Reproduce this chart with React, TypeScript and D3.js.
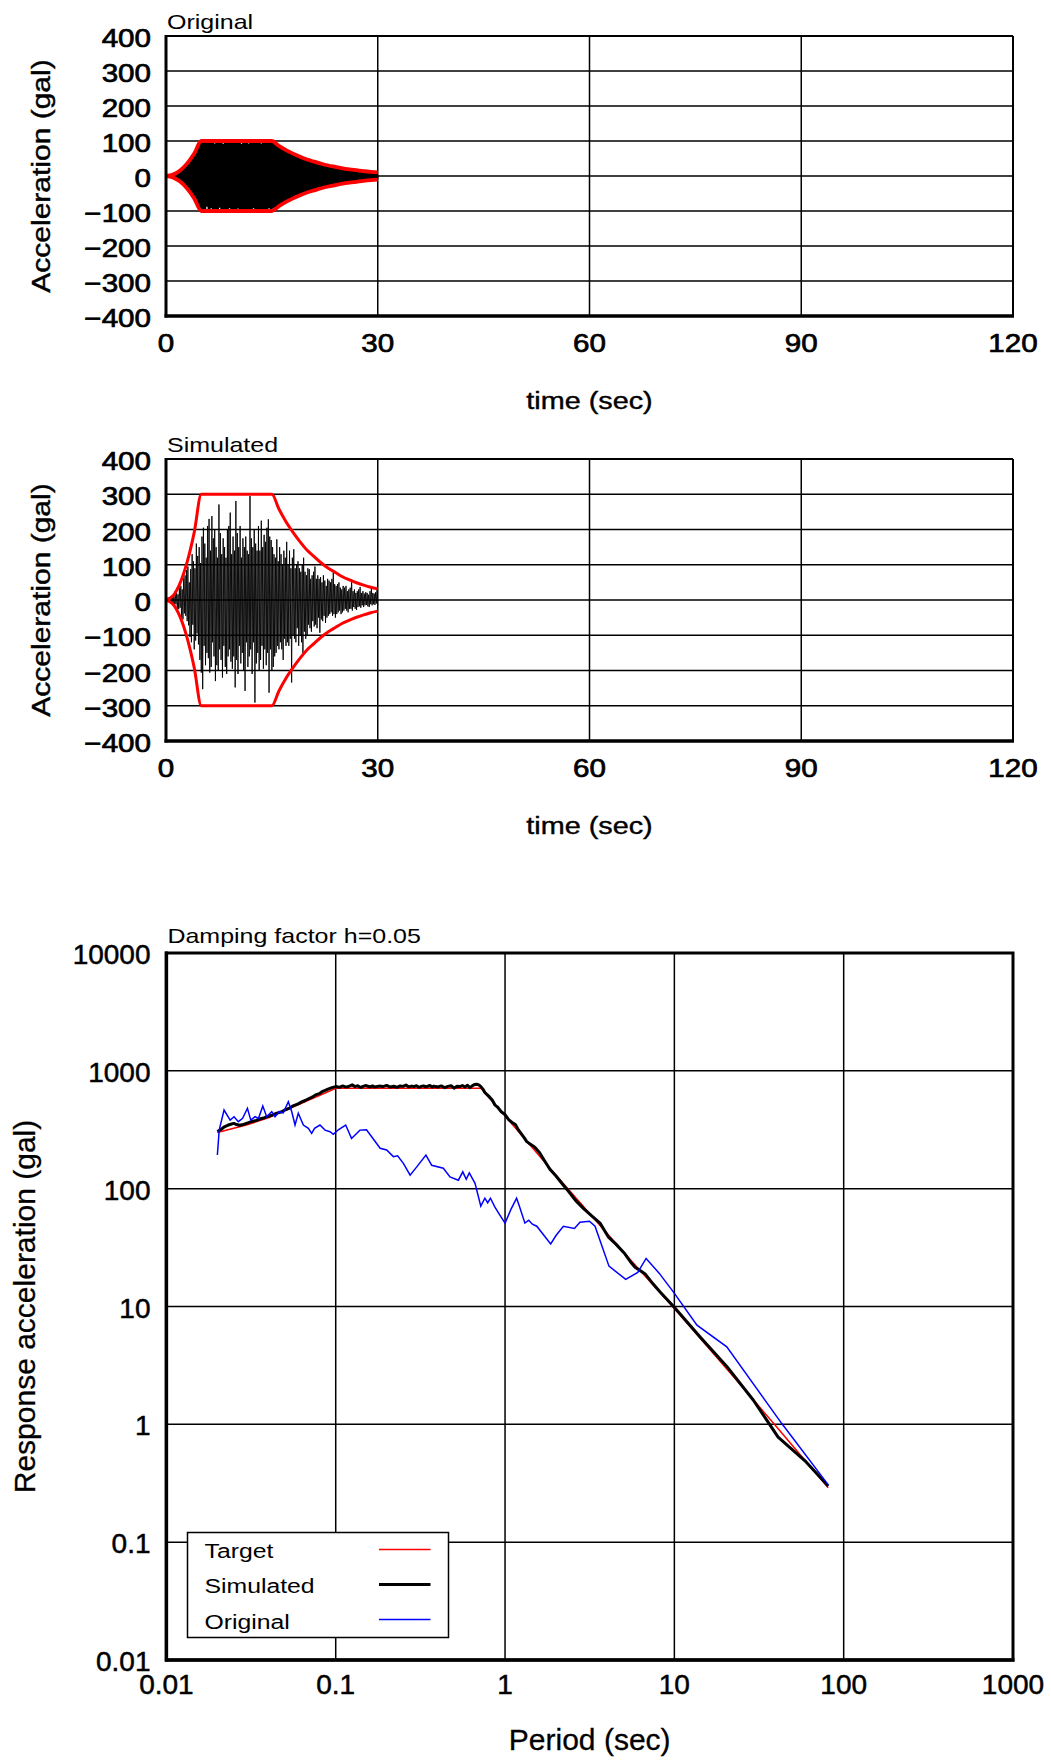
import * as d3 from "d3";

// ---- time history data (gal) ----
const timeTicks = [0, 30, 60, 90, 120];
const accTicks = [400, 300, 200, 100, 0, -100, -200, -300, -400];

const envTime = [0, 1, 2, 3, 4, 5, 15, 16, 17, 18, 19, 20, 21, 22, 23, 24, 25, 26, 27, 28, 29, 30];
const envOriginal = [0, 4, 16, 36, 64, 100, 100, 86, 74, 64, 55, 47, 41, 35, 30, 26, 22, 19, 16.5, 14, 12, 10.5];
const envSimulated = [0, 12, 48, 108, 192, 300, 300, 258, 222, 192, 165, 141, 123, 105, 90, 78, 66, 57, 49, 42, 36, 31.5];

const sampleStep = 0.1; // sec

const originalAcc = [
  0, 0.1, -0.2, 0.4, -0.6, 1, -1.4, 1.9, -2.5, 3.1,
  -3.9, 4.7, -5.6, 6.6, -7.6, 8.8, -10, 11.4, -12.8, 14.2,
  -15.6, 17.2, -19, 20.8, -22.7, 24.6, -26.7, 28.8, -31, 33.3,
  -35.6, 38, -40.6, 43.2, -45.8, 48.6, -51.4, 54.3, -57.3, 60.3,
  -63.5, 66.6, -69.8, 73.2, -76.5, 80, -83.6, 87.3, -91, 95,
  -98, 96, -99, 97, -94, 99, -96, 98, -88, 97,
  -99, 95, -97, 99, -92, 98, -99, 96, -97, 93,
  -96, 99, -98, 94, -99, 97, -91, 99, -95, 98,
  -97, 92, -99, 98, -96, 99, -94, 97, -99, 95,
  -92, 98, -97, 99, -95, 94, -99, 97, -98, 99,
  -96, 99, -93, 97, -99, 96, -98, 92, -97, 99,
  -99, 95, -96, 98, -94, 99, -97, 93, -99, 98,
  -95, 97, -99, 96, -92, 99, -98, 97, -96, 94,
  -99, 98, -95, 99, -97, 93, -99, 96, -98, 99,
  -94, 97, -99, 95, -98, 99, -92, 98, -97, 96,
  -95, 96, -93, 94, -91, 89, -90, 87, -86, 84,
  -83, 82, -80, 81, -78, 77, -76, 74, -75, 72,
  -71, 70, -69, 68, -66, 67, -64, 63, -62, 61,
  -61, 60, -59, 57, -56, 57, -55, 54, -52, 53,
  -52, 51, -50, 49, -48, 48, -47, 46, -45, 44,
  -44, 44, -43, 42, -42, 41, -40, 40, -39, 38,
  -38, 38, -37, 37, -36, 35, -35, 34, -34, 33,
  -33, 32, -32, 31, -31, 30, -30, 29, -29, 28,
  -28, 28, -27, 27, -26, 26, -26, 25, -25, 24,
  -24, 24, -23, 23, -23, 22, -22, 21, -21, 21,
  -20, 20, -20, 19, -19, 19, -18, 18, -18, 17,
  -17, 17, -17, 16, -16, 16, -16, 15, -15, 15,
  -15, 14, -14, 14, -14, 14, -13, 13, -13, 13,
  -12, 12, -12, 12, -12, 11, -11, 11, -11, 11,
  -11, 10, -10, 10, -10, 10, -10, 9.5, -9.5, 9.5,
  -9,
];

const simulatedAcc = [
  0, 4, -3, 7, -5, 2, -9, 11, -6, 8,
  -14, 10, -18, 24, -12, 20, -30, 16, -26, 35,
  -22, 40, -48, 30, -55, 62, -38, 70, -45, 85,
  -60, 95, -72, 50, -105, 88, -120, 130, -70, 110,
  -140, 90, -115, 160, -95, 125, -126, 150, -170, 105,
  -206, 180, -253, 205, -130, 160, -185, 120, -150, 210,
  -165, 230, -206, 140, -190, 238, -120, 175, -160, 200,
  -230, 150, -185, 120, -200, 271, -140, 190, -170, 130,
  -220, 175, -130, 150, -190, 120, -210, 200, -160, 210,
  -140, 248, -175, 130, -195, 180, -160, 140, -248, 281,
  -170, 190, -210, 150, -130, 210, -180, 120, -150, 175,
  -200, 150, -258, 180, -120, 140, -190, 130, -160, 295,
  -140, 175, -210, 150, -120, 200, -291, 160, -180, 140,
  -150, 210, -200, 140, -170, 225, -130, 150, -195, 185,
  -140, 165, -185, 205, -150, 229, -263, 180, -140, 170,
  -200, 150, -190, 130, -160, 120, -150, 172, -130, 110,
  -140, 150, -120, 130, -140, 100, -170, 140, -110, 120,
  -130, 165, -120, 100, -130, 140, -110, 90, -234, 120,
  -100, 144, -110, 90, -120, 100, -80, 110, -130, 90,
  -100, 80, -120, 100, -150, 120, -90, 80, -110, 70,
  -100, 90, -70, 87, -80, 60, -90, 70, -60, 80,
  -75, 95, -70, 60, -80, 70, -50, 60, -93, 65,
  -55, 50, -60, 70, -45, 55, -65, 40, -50, 60,
  -45, 55, -40, 50, -35, 60, -45, 78, -40, 45,
  -50, 40, -40, 45, -35, 50, -30, 35, -40, 30,
  -35, 40, -30, 35, -25, 40, -30, 25, -35, 30,
  -25, 35, -25, 59, -30, 25, -20, 30, -25, 20,
  -28, 25, -20, 30, -18, 37, -22, 20, -15, 25,
  -20, 18, -15, 22, -14, 20, -18, 15, -20, 25,
  -12, 33, -15, 20, -12, 18, -14, 22, -10, 28,
  -15,
];

// ---- response spectra (period sec, gal) ----
const periodTicks = [0.01, 0.1, 1, 10, 100, 1000];
const periodLabels = ["0.01", "0.1", "1", "10", "100", "1000"];
const respTicks = [10000, 1000, 100, 10, 1, 0.1, 0.01];
const respLabels = ["10000", "1000", "100", "10", "1", "0.1", "0.01"];

const targetPeriod = [0.02, 0.03, 0.04, 0.05, 0.06, 0.07, 0.08, 0.09, 0.1, 0.72, 1, 2, 5, 10, 20, 40, 81];
const targetSa = [300, 348, 400, 460, 515, 568, 618, 665, 710, 710, 415, 130, 29, 9.6, 3.05, 0.96, 0.29];

const simPeriod = [
  0.02, 0.021, 0.022, 0.023, 0.024, 0.025, 0.026, 0.027, 0.028, 0.03, 0.032, 0.034, 0.036, 0.038, 0.04,
  0.042, 0.045, 0.048, 0.05, 0.053, 0.056, 0.06, 0.063, 0.066, 0.07, 0.073, 0.076, 0.08, 0.083, 0.086,
  0.09, 0.095, 0.1, 0.105, 0.11, 0.115, 0.12, 0.125, 0.13, 0.135, 0.14, 0.145, 0.15, 0.16, 0.165, 0.17,
  0.18, 0.19, 0.2, 0.21, 0.22, 0.23, 0.24, 0.25, 0.26, 0.27, 0.28, 0.29, 0.3, 0.31, 0.32, 0.33, 0.34,
  0.35, 0.36, 0.37, 0.38, 0.39, 0.4, 0.42, 0.44, 0.46, 0.48, 0.5, 0.52, 0.54, 0.56, 0.58, 0.6, 0.62,
  0.64, 0.66, 0.68, 0.7, 0.72, 0.74, 0.76, 0.8, 0.84, 0.87, 0.9, 0.95, 1.0, 1.05, 1.1, 1.15, 1.2, 1.3,
  1.34, 1.4, 1.5, 1.6, 1.7, 1.84, 2.0, 2.2, 2.37, 2.6, 2.9, 3.2, 3.64, 4.07, 4.5, 5.1, 5.5, 5.86, 6.7,
  7.5, 8.24, 9.9, 14.2, 20.4, 29.3, 41, 60, 81,
];
const simSa = [
  305, 318, 335, 345, 352, 358, 350, 345, 348, 360, 372, 380, 392, 400, 412,
  420, 438, 450, 465, 480, 505, 525, 545, 560, 585, 600, 625, 640, 665, 680,
  700, 720, 735, 725, 745, 728, 740, 760, 735, 748, 722, 738, 750, 730, 745, 728,
  742, 735, 752, 728, 740, 725, 745, 738, 758, 730, 742, 735, 748, 725, 738, 745, 730,
  740, 752, 728, 742, 735, 730, 745, 720, 738, 748, 712, 740, 735, 750, 728, 755, 720,
  745, 765, 770, 760, 735, 700, 655, 610, 565, 515, 495, 450, 425, 385, 365, 350, 315, 270,
  252, 240, 225, 202, 175, 146, 128, 108, 95, 80, 68, 60, 51, 39, 34, 28, 24, 21.5, 19,
  15.5, 13.3, 10, 5.5, 3.1, 1.6, 0.78, 0.48, 0.3,
];

const origPeriod = [
  0.02, 0.0205, 0.0219, 0.0238, 0.0251, 0.0266, 0.0282, 0.0301, 0.0315, 0.0334, 0.035, 0.0371, 0.0391,
  0.0419, 0.0438, 0.0464, 0.049, 0.0525, 0.055, 0.0575, 0.0601, 0.0644, 0.0689, 0.0721, 0.075, 0.0807,
  0.0865, 0.0925, 0.0968, 0.1036, 0.1145, 0.124, 0.139, 0.152, 0.163, 0.183, 0.2, 0.219, 0.232, 0.251,
  0.275, 0.301, 0.341, 0.369, 0.432, 0.473, 0.53, 0.563, 0.59, 0.615, 0.665, 0.719, 0.76, 0.79, 0.82,
  0.87, 0.93, 1.0, 1.08, 1.17, 1.22, 1.31, 1.38, 1.45, 1.54, 1.86, 2.0, 2.21, 2.57, 2.77, 3.15, 3.4,
  4.11, 5.16, 6.08, 6.81, 8.15, 9.86, 13.6, 20.4, 43, 81.3,
];
const origSa = [
  193, 314, 465, 382, 408, 370, 395, 481, 382, 408, 395, 502, 408,
  450, 408, 450, 440, 547, 450, 347, 436, 347, 325, 295, 325, 347,
  314, 304, 289, 316, 347, 267, 314, 316, 276, 220, 213, 187, 190, 164,
  130, 153, 193, 158, 149, 126, 118, 139, 120, 136, 111, 71, 83, 76, 83,
  70, 60, 51, 66, 83, 70, 51, 54, 50, 48, 34, 40, 48, 46, 52, 53, 48,
  22, 17, 19.5, 25.6, 19.1, 13.3, 6.95, 4.55, 1.02, 0.305,
];

const legendItems = [
  { label: "Target", color: "#ff0000", width: 1.5 },
  { label: "Simulated", color: "#000000", width: 3 },
  { label: "Original", color: "#0000ff", width: 1.5 },
];

const FONT = "'Liberation Sans', Arial, Helvetica, sans-serif";

type TextProps = {
  x: number;
  y: number;
  size: number;
  sx?: number;
  anchor?: "start" | "middle" | "end";
  rotate?: number;
  bold?: number;
  children: any;
};

// text with a horizontal stretch, the source renders fonts a bit wide
const SText = ({ x, y, size, sx = 1, anchor = "start", rotate = 0, bold = 0, children }: TextProps) => (
  <text
    transform={`translate(${x},${y}) rotate(${rotate}) scale(${sx},1)`}
    fontSize={size}
    fontFamily={FONT}
    textAnchor={anchor}
    fill="#000"
    stroke={bold ? "#000" : "none"}
    strokeWidth={bold}
  >
    {children}
  </text>
);

const fmtAcc = (v: number) => (v < 0 ? `\u2212${-v}` : `${v}`);

type TimePlotProps = {
  top: number;
  height: number;
  title: string;
  acc: number[];
  env: number[];
  envWidth: number;
  sigWidth: number;
};

const TimePlot = ({ top, height, title, acc, env, envWidth, sigWidth }: TimePlotProps) => {
  const left = 166;
  const right = 1013;
  const bottom = top + height;
  const x = d3.scaleLinear().domain([0, 120]).range([left, right]);
  const y = d3.scaleLinear().domain([-400, 400]).range([bottom, top]);

  const sigLine = d3
    .line<number>()
    .x((_, i) => x(i * sampleStep))
    .y((d) => y(d));

  const envUpper = d3
    .line<number>()
    .x((_, i) => x(envTime[i]))
    .y((d) => y(d))
    .curve(d3.curveMonotoneX);
  const envLower = d3
    .line<number>()
    .x((_, i) => x(envTime[i]))
    .y((d) => y(-d))
    .curve(d3.curveMonotoneX);

  return (
    <g>
      {accTicks.slice(1, -1).map((t) => (
        <line key={`h${t}`} x1={left} x2={right} y1={y(t)} y2={y(t)} stroke="#000" strokeWidth={1.4} />
      ))}
      {timeTicks.slice(1, -1).map((t) => (
        <line key={`v${t}`} x1={x(t)} x2={x(t)} y1={top} y2={bottom} stroke="#000" strokeWidth={1.5} />
      ))}

      <path d={sigLine(acc) || ""} fill="none" stroke="#000" strokeWidth={sigWidth} />
      <path d={envUpper(env) || ""} fill="none" stroke="#ff0000" strokeWidth={envWidth} />
      <path d={envLower(env) || ""} fill="none" stroke="#ff0000" strokeWidth={envWidth} />

      {/* frame */}
      <line x1={left} x2={right} y1={top} y2={top} stroke="#000" strokeWidth={2} />
      <line x1={right} x2={right} y1={top} y2={bottom} stroke="#000" strokeWidth={2} />
      <line x1={left} x2={left} y1={top - 1} y2={bottom + 1.5} stroke="#000" strokeWidth={3} />
      <line x1={left - 1.5} x2={right + 1} y1={bottom} y2={bottom} stroke="#000" strokeWidth={3.5} />

      {accTicks.map((t) => (
        <SText key={`yl${t}`} x={151} y={y(t) + 11} size={25.5} sx={1.16} anchor="end" bold={0.7}>
          {fmtAcc(t)}
        </SText>
      ))}
      {timeTicks.map((t) => (
        <SText key={`xl${t}`} x={x(t)} y={bottom + 35.5} size={25.5} sx={1.16} anchor="middle" bold={0.7}>
          {t}
        </SText>
      ))}
      <SText x={(left + right) / 2} y={bottom + 93} size={24} sx={1.2} anchor="middle" bold={0.4}>
        time (sec)
      </SText>
      <SText x={50} y={(top + bottom) / 2} size={25} sx={1.2} anchor="middle" rotate={-90} bold={0.4}>
        Acceleration (gal)
      </SText>
      <SText x={left + 1} y={top - 7} size={21} sx={1.19} anchor="start">
        {title}
      </SText>
    </g>
  );
};

const SpectrumPlot = () => {
  const left = 166.4;
  const right = 1013;
  const top = 953;
  const bottom = 1660;
  const x = d3.scaleLog().domain([0.01, 1000]).range([left, right]);
  const y = d3.scaleLog().domain([0.01, 10000]).range([bottom, top]);

  const line = d3
    .line<[number, number]>()
    .x((d) => x(d[0]))
    .y((d) => y(d[1]));

  const target = targetPeriod.map((p, i) => [p, targetSa[i]] as [number, number]);
  const sim = simPeriod.map((p, i) => [p, simSa[i]] as [number, number]);
  const orig = origPeriod.map((p, i) => [p, origSa[i]] as [number, number]);

  const lg = { x: 187.5, y: 1532.5, w: 261, h: 105 };

  return (
    <g>
      {respTicks.slice(1, -1).map((t) => (
        <line key={`h${t}`} x1={left} x2={right} y1={y(t)} y2={y(t)} stroke="#000" strokeWidth={1.5} />
      ))}
      {periodTicks.slice(1, -1).map((t) => (
        <line key={`v${t}`} x1={x(t)} x2={x(t)} y1={top} y2={bottom} stroke="#000" strokeWidth={1.5} />
      ))}

      <path d={line(target) || ""} fill="none" stroke="#ff0000" strokeWidth={1.5} />
      <path d={line(sim) || ""} fill="none" stroke="#000" strokeWidth={3} strokeLinejoin="round" />
      <path d={line(orig) || ""} fill="none" stroke="#0000ff" strokeWidth={1.5} />

      <rect x={left} y={top} width={right - left} height={bottom - top} fill="none" stroke="#000" strokeWidth={3} />
      <line x1={left} x2={left} y1={top - 1.5} y2={bottom + 1.5} stroke="#000" strokeWidth={3.5} />
      <line x1={left - 1.5} x2={right + 1.5} y1={bottom} y2={bottom} stroke="#000" strokeWidth={3.5} />

      <rect x={lg.x} y={lg.y} width={lg.w} height={lg.h} fill="#fff" stroke="#000" strokeWidth={1.5} />
      {legendItems.map((it, i) => (
        <g key={it.label}>
          <SText x={lg.x + 17} y={lg.y + 25 + i * 35.7} size={21} sx={1.18}>
            {it.label}
          </SText>
          <line
            x1={lg.x + 191.5}
            x2={lg.x + 243}
            y1={lg.y + 17 + i * 35}
            y2={lg.y + 17 + i * 35}
            stroke={it.color}
            strokeWidth={it.width}
          />
        </g>
      ))}

      {respTicks.map((t, i) => (
        <SText key={`yl${t}`} x={150.5} y={y(t) + 11} size={28} anchor="end" bold={0.5}>
          {respLabels[i]}
        </SText>
      ))}
      {periodTicks.map((t, i) => (
        <SText key={`xl${t}`} x={x(t)} y={bottom + 34} size={28} anchor="middle" bold={0.5}>
          {periodLabels[i]}
        </SText>
      ))}
      <SText x={(left + right) / 2} y={1750} size={30} anchor="middle" bold={0.3}>
        Period (sec)
      </SText>
      <SText x={35} y={(top + bottom) / 2} size={30} anchor="middle" rotate={-90} bold={0.3}>
        Response acceleration (gal)
      </SText>
      <SText x={left + 1} y={top - 10} size={21} sx={1.19}>
        Damping factor h=0.05
      </SText>
    </g>
  );
};

export default function App() {
  return (
    <svg
      width={1051}
      height={1762}
      viewBox="0 0 1051 1762"
      style={{ position: "absolute", left: 0, top: 0, background: "#fff" }}
    >
      <TimePlot top={36} height={280} title="Original" acc={originalAcc} env={envOriginal} envWidth={3.8} sigWidth={1.5} />
      <TimePlot top={459} height={282} title="Simulated" acc={simulatedAcc} env={envSimulated} envWidth={3} sigWidth={0.9} />
      <SpectrumPlot />
    </svg>
  );
}
